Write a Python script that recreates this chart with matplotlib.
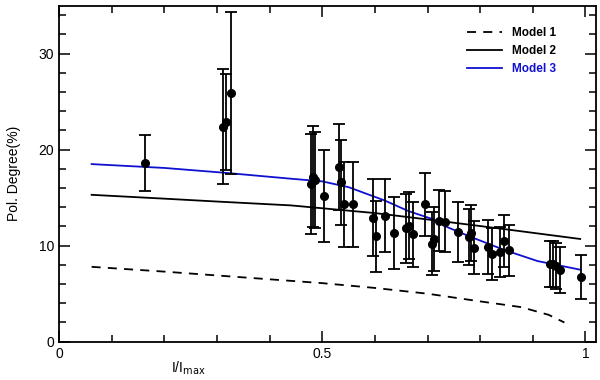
import matplotlib
matplotlib.use("Agg")
import matplotlib.pyplot as plt
from matplotlib.ticker import MultipleLocator

# observed polarization degree vs I/Imax
x_obs = [0.163, 0.312, 0.318, 0.327, 0.478, 0.482, 0.487, 0.504, 0.531, 0.536,
         0.541, 0.558, 0.597, 0.602, 0.619, 0.637, 0.659, 0.664, 0.672, 0.695,
         0.708, 0.713, 0.722, 0.734, 0.757, 0.778, 0.783, 0.788, 0.815, 0.823,
         0.837, 0.845, 0.854, 0.933, 0.938, 0.944, 0.952, 0.991]
y_obs = [18.6, 22.4, 22.9, 25.9, 16.4, 17.2, 16.8, 15.2, 18.2, 16.6,
         14.3, 14.3, 12.9, 11.0, 13.1, 11.3, 11.8, 12.1, 11.2, 14.3,
         10.2, 10.7, 12.6, 12.5, 11.4, 10.9, 11.3, 9.8, 9.9, 9.1,
         9.3, 10.5, 9.5, 8.1, 8.1, 7.9, 7.5, 6.7]
y_err = [2.9, 6.0, 5.0, 8.4, 5.2, 5.3, 5.0, 4.8, 4.5, 4.4,
         4.4, 4.4, 4.0, 3.7, 3.8, 3.75, 3.6, 3.5, 3.4, 3.3,
         3.3, 3.3, 3.2, 3.2, 3.1, 2.9, 2.9, 2.8, 2.8, 2.7,
         2.6, 2.7, 2.7, 2.4, 2.4, 2.4, 2.4, 2.3]

# model curves
x_m1 = [0.062, 0.2, 0.3, 0.4, 0.5, 0.6, 0.7, 0.8, 0.878, 0.93, 0.96]
y_m1 = [7.8, 7.3, 6.9, 6.5, 6.1, 5.6, 5.0, 4.2, 3.6, 2.8, 2.0]
x_m2 = [0.062, 0.2, 0.3, 0.44, 0.6, 0.72, 0.85, 0.99]
y_m2 = [15.3, 14.9, 14.6, 14.2, 13.4, 12.6, 11.7, 10.7]
x_m3 = [0.062, 0.2, 0.314, 0.436, 0.5, 0.55, 0.619, 0.664, 0.708, 0.739,
        0.783, 0.846, 0.909, 0.99]
y_m3 = [18.5, 18.1, 17.6, 17.0, 16.7, 16.1, 14.7, 13.6, 12.8, 11.9,
        10.9, 9.55, 8.4, 7.5]

plt.rcParams["font.family"] = ["Liberation Sans", "DejaVu Sans"]
blue = "#1010d0"

fig = plt.figure(figsize=(6, 3.8), dpi=100)
ax = fig.add_axes([0.0983, 0.1008, 0.895, 0.8842])

ax.plot(x_m1, y_m1, color="black", ls=(0, (5, 4)), lw=1.3, label="Model 1")
ax.plot(x_m2, y_m2, color="black", lw=1.3, label="Model 2")
ax.plot(x_m3, y_m3, color=blue, lw=1.3, label="Model 3")
ax.errorbar(x_obs, y_obs, yerr=y_err, fmt="o", color="black", ms=5.5,
            elinewidth=1.3, capsize=4, capthick=1.3)

ax.set_xlim(0, 1.02)
ax.set_ylim(0, 35)
ax.xaxis.set_minor_locator(MultipleLocator(0.1))
ax.yaxis.set_major_locator(MultipleLocator(10))
ax.yaxis.set_minor_locator(MultipleLocator(2))
ax.set_xticks([0, 0.5, 1])
ax.set_xticklabels(["0", "0.5", "1"])
ax.tick_params(which="both", direction="in", top=True, right=True, labelsize=10)
ax.tick_params(which="major", length=8, width=1.1)
ax.tick_params(which="minor", length=5, width=1.1)
for s in ax.spines.values():
    s.set_linewidth(1.3)

ax.set_ylabel("Pol. Degree(%)", fontsize=10)
ax.yaxis.set_label_coords(-0.07, 0.5)
ax.text(0.241, -0.078, r"I/I$_{\rm max}$", transform=ax.transAxes,
        ha="center", va="center", fontsize=10)

leg = ax.legend(loc="upper right", frameon=False, fontsize=8.5,
                handlelength=3, bbox_to_anchor=(0.945, 0.967))
for t in leg.get_texts():
    t.set_fontweight("bold")
leg.get_texts()[2].set_color(blue)

fig.savefig("out.png", dpi=100)
